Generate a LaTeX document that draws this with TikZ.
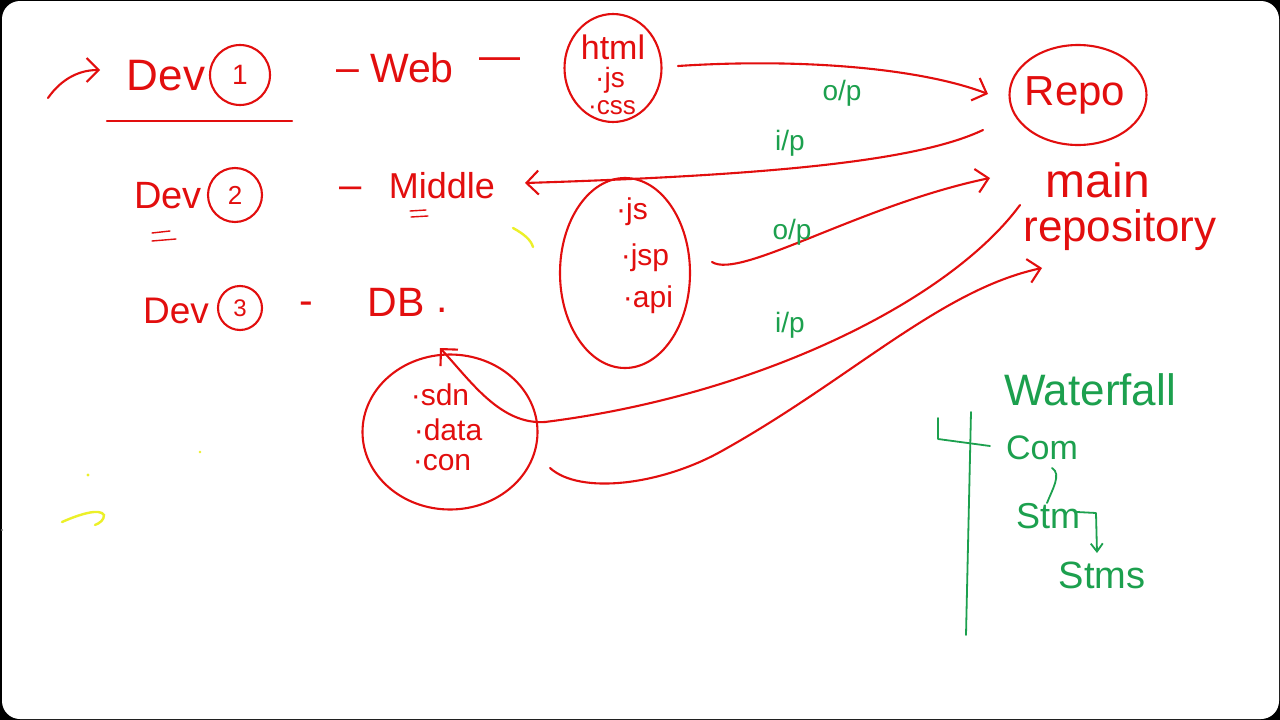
\documentclass[tikz,border=0pt]{standalone}
\usepackage{fontspec}
\setmainfont{Liberation Sans}
\usetikzlibrary{arrows.meta,shapes.geometric}
\definecolor{ink}{RGB}{226,14,14}
\definecolor{gink}{RGB}{28,160,78}
\definecolor{yink}{RGB}{236,240,40}
\tikzset{
  redline/.style={draw=ink, line width=2.1pt, line cap=round, line join=round},
  greenline/.style={draw=gink, line width=1.8pt, line cap=round, line join=round},
  yline/.style={draw=yink, line width=2.4pt, line cap=round},
  arr/.style={-{Straight Barb[length=12pt,width=24pt]}},
  garr/.style={-{Straight Barb[length=8pt,width=12pt]}},
  rtext/.style={text=ink, inner sep=0pt, font=\fontsize{#1}{#1}\selectfont},
  gtext/.style={text=gink, inner sep=0pt, font=\fontsize{#1}{#1}\selectfont},
  blob/.style={redline, ellipse, inner sep=0pt},
  numc/.style={redline, circle, inner sep=0pt, text=ink, font=\fontsize{#1}{#1}\selectfont},
}
\begin{document}
\begin{tikzpicture}[x=1pt,y=-1pt]
\useasboundingbox (0,0) rectangle (1280,720);
\fill[black] (0,0) rectangle (1280,720);
\fill[white, rounded corners=18pt] (2,1) rectangle (1279,719);

% Dev 1 row
\coordinate (a0) at (48,98);
\coordinate (a1) at (100,70);
\draw[redline,arr] (a0) .. controls (62,78) and (80,70) .. (a1);
\node[rtext=44] (dev1) at (166,76) {Dev};
\node[numc=28, minimum size=60pt] (n1) at (240,75) {1};
\coordinate (u0) at (107,121);
\coordinate (u1) at (292,121);
\draw[redline] (u0) -- (u1);
\node[rtext=41] (d1a) at (348,76) {–};
\node[rtext=41] (web) at (412,68) {Web};
\node[rtext=41] (d1b) at (500,64) {—};

% html circle
\node[blob, minimum width=97pt, minimum height=108pt] (html) at (613,68) {};
\node[rtext=34] (h1) at (613,47) {html};
\node[rtext=28] (h2) at (610,80) {·js};
\node[rtext=26] (h3) at (612,108) {·css};

% Repo
\node[blob, minimum width=137pt, minimum height=100pt] (repo) at (1078,95) {};
\node[rtext=42] (repot) at (1075,95) {Repo};
\node[rtext=48] (main) at (1098,180) {main};
\node[rtext=44] (repos) at (1120,230) {repository};

% Dev 2 row
\node[rtext=38] (dev2) at (168,196) {Dev};
\node[numc=26, minimum size=54pt] (n2) at (235,195) {2};
\coordinate (e0) at (152,233); \coordinate (e1) at (170,231);
\coordinate (e2) at (152,241); \coordinate (e3) at (176,239);
\draw[redline,line width=1.4pt] (e0) -- (e1) (e2) -- (e3);
\node[rtext=40] (d2a) at (351,193) {–};
\node[rtext=36] (mid) at (442,186) {Middle};
\coordinate (f0) at (410,211); \coordinate (f1) at (426,210);
\coordinate (f2) at (411,217); \coordinate (f3) at (428,216);
\draw[redline,line width=1.4pt] (f0) -- (f1) (f2) -- (f3);

% jsp circle
\node[blob, minimum width=130pt, minimum height=190pt] (jsp) at (625,273) {};
\node[rtext=30] (j1) at (632,212) {·js};
\node[rtext=30] (j2) at (645,258) {·jsp};
\node[rtext=30] (j3) at (648,300) {·api};

% Dev 3 row
\node[rtext=37] (dev3) at (176,311) {Dev};
\node[numc=24, minimum size=44pt] (n3) at (240,308) {3};
\node[rtext=41] (d3a) at (306,308) {-};
\node[rtext=41] (db) at (396,302) {DB};
\node[rtext=41] (dbdot) at (442,310) {.};

% sdn circle
\node[blob, minimum width=175pt, minimum height=155pt] (sdn) at (450,432) {};
\node[rtext=30] (s1) at (440,395) {·sdn};
\node[rtext=30] (s2) at (448,430) {·data};
\node[rtext=30] (s3) at (442,463) {·con};

% connectors
\coordinate (c1s) at (678,66);
\coordinate (c1e) at (988,94);
\draw[redline,arr] (c1s) .. controls (800,58) and (920,68) .. (c1e);
\node[gtext=28] (op1) at (842,93) {o/p};

\coordinate (c2s) at (983,130);
\coordinate (c2e) at (525,183);
\draw[redline,arr] (c2s) .. controls (920,160) and (780,175) .. (c2e);
\node[gtext=28] (ip1) at (790,143) {i/p};

\coordinate (c3s) at (712,262);
\coordinate (c3e) at (990,178);
\draw[redline,arr] (c3s) .. controls (740,280) and (860,205) .. (c3e);
\node[gtext=28] (op2) at (792,232) {o/p};

\coordinate (c4s) at (1020,205);
\coordinate (c4m) at (545,422);
\coordinate (c4e) at (440,348);
\draw[redline,arr] (c4s) .. controls (950,300) and (760,395) .. (c4m) .. controls (500,425) and (470,380) .. (c4e);
\node[gtext=28] (ip2) at (790,325) {i/p};

\coordinate (c5s) at (550,468);
\coordinate (c5m) at (720,452);
\coordinate (c5e) at (1042,268);
\draw[redline,arr] (c5s) .. controls (580,495) and (660,485) .. (c5m) .. controls (850,380) and (940,290) .. (c5e);

% waterfall
\node[gtext=44] (wf) at (1090,390) {Waterfall};
\coordinate (v0) at (971,412);
\coordinate (v1) at (966,635);
\draw[greenline] (v0) -- (v1);
\coordinate (k0) at (938,418);
\coordinate (k1) at (938,439);
\coordinate (k2) at (990,446);
\draw[greenline] (k0) -- (k1) -- (k2);
\node[gtext=34] (com) at (1042,448) {Com};
\node[gtext=36] (stm) at (1048,516) {Stm};
\node[gtext=38] (stms) at (1102,575) {Stms};
\coordinate (g0) at (1052,468);
\coordinate (g1) at (1047,503);
\draw[greenline] (g0) .. controls (1062,474) and (1052,490) .. (g1);
\coordinate (g2) at (1077,512);
\coordinate (g3) at (1097,553);
\draw[greenline,garr] (g2) -- (1096,513) -- (g3);

% yellow marks
\coordinate (y0) at (513,228); \coordinate (y1) at (533,247);
\draw[yline] (y0) .. controls (524,234) and (531,240) .. (y1);
\coordinate (y2) at (62,522); \coordinate (y3) at (95,525);
\draw[yline] (y2) .. controls (80,514) and (100,508) .. (104,515) .. controls (104,520) and (100,523) .. (y3);
\fill[yink] (88,475) circle (1.6pt);
\fill[yink] (200,452) circle (1.4pt);
\fill[gray] (2,530) circle (1.2pt);
\end{tikzpicture}
\end{document}
